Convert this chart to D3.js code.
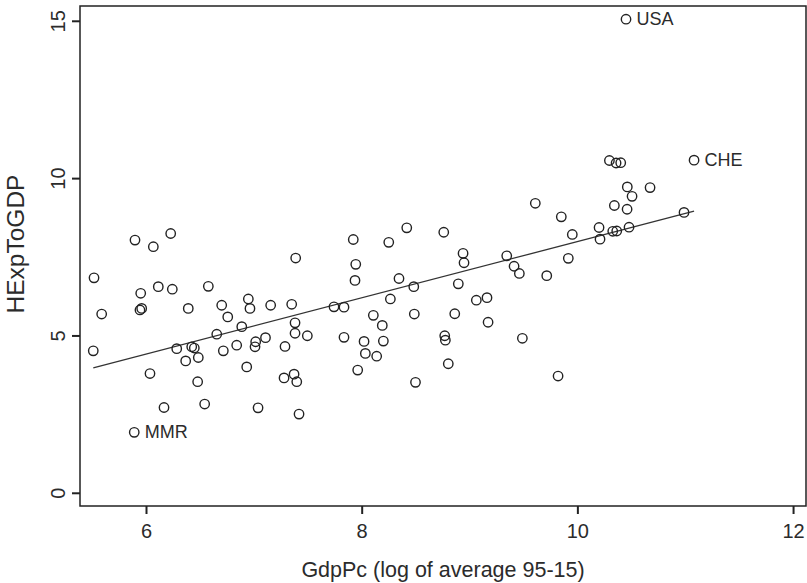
<!DOCTYPE html>
<html>
<head>
<meta charset="utf-8">
<script src="https://cdn.jsdelivr.net/npm/d3@7"></script>
<style>
  body { margin: 0; background: #fff; }
  text { font-family: "Liberation Sans", Arial, sans-serif; fill: #2b2b2b; }
</style>
</head>
<body>
<svg width="807" height="583"></svg>
<script>
// GdpPc (log) and HExpToGDP
var gdp = [5.898, 6.068, 6.229, 5.518, 5.951, 6.114, 6.244, 6.578, 5.589, 5.944,
  5.960, 6.392, 6.702, 6.949, 6.964, 6.758, 7.156, 6.888, 6.656, 5.511,
  6.285, 6.424, 6.448, 6.717, 6.841, 7.017, 7.011, 7.108, 6.368, 6.485,
  6.934, 6.037, 6.479, 6.167, 6.544, 7.039, 5.891, 7.388, 7.922, 8.251,
  8.418, 8.761, 8.940, 8.949, 9.345, 9.413, 9.462, 7.945, 7.938, 8.346,
  8.483, 8.896, 7.351, 7.743, 7.836, 8.266, 9.063, 9.162, 7.382, 7.382,
  7.496, 7.289, 7.836, 8.108, 8.191, 8.488, 8.863, 9.172, 8.022, 8.201,
  8.034, 8.139, 8.770, 8.776, 9.490, 7.963, 8.803, 7.280, 7.373, 7.398,
  8.499, 7.419, 10.451, 11.082, 10.297, 10.359, 10.402, 10.463, 10.674, 10.507,
  9.610, 10.343, 10.461, 9.851, 10.201, 9.953, 10.328, 10.365, 10.479, 10.989,
  10.210, 9.916, 9.716, 9.821];
var hexp = [8.03, 7.82, 8.24, 6.83, 6.34, 6.55, 6.47, 6.56, 5.68, 5.81,
  5.86, 5.86, 5.96, 6.16, 5.86, 5.59, 5.96, 5.28, 5.04, 4.51,
  4.58, 4.64, 4.60, 4.51, 4.69, 4.80, 4.64, 4.93, 4.19, 4.30,
  4.00, 3.79, 3.53, 2.71, 2.82, 2.70, 1.92, 7.46, 8.05, 7.96,
  8.42, 8.28, 7.61, 7.31, 7.53, 7.20, 6.97, 7.26, 6.75, 6.81,
  6.55, 6.64, 5.99, 5.91, 5.90, 6.16, 6.12, 6.20, 5.40, 5.07,
  4.99, 4.65, 4.94, 5.64, 5.32, 5.68, 5.69, 5.42, 4.81, 4.82,
  4.43, 4.34, 4.99, 4.85, 4.91, 3.90, 4.10, 3.65, 3.77, 3.53,
  3.51, 2.50, 15.05, 10.57, 10.56, 10.48, 10.49, 9.72, 9.70, 9.42,
  9.20, 9.13, 9.01, 8.77, 8.43, 8.21, 8.31, 8.32, 8.44, 8.91,
  8.06, 7.45, 6.90, 3.71];
var country = [];
country[37 - 1] = "MMR";
country[83 - 1] = "USA";
country[84 - 1] = "CHE";

var fitX = [5.511, 11.082];
var fitY = [3.97, 8.95];

var xTicks = [6, 8, 10, 12];
var yTicks = [0, 5, 10, 15];

var svg = d3.select("svg");
var padL = 80, padR = 806, padT = 6, padB = 506;

var x = d3.scaleLinear().domain([5.388, 12.12]).range([padL, padR]);
var y = d3.scaleLinear().domain([-0.42, 15.47]).range([padB, padT]);

var ink = "#222";

// axes
var gx = svg.append("g")
  .attr("transform", "translate(0," + padB + ")")
  .call(d3.axisBottom(x).tickValues(xTicks).tickFormat(d3.format("d")).tickSize(8).tickSizeOuter(0));
gx.select(".domain").remove();
gx.selectAll(".tick line").attr("stroke", ink).attr("stroke-width", 2);
gx.selectAll(".tick text")
  .attr("y", 31.5).attr("dy", 0)
  .style("font-size", "20px").attr("fill", "#2b2b2b");

var gy = svg.append("g")
  .attr("transform", "translate(" + padL + ",0)")
  .call(d3.axisLeft(y).tickValues(yTicks).tickFormat(d3.format("d")).tickSize(8).tickSizeOuter(0));
gy.select(".domain").remove();
gy.selectAll(".tick line").attr("stroke", ink).attr("stroke-width", 2);
gy.selectAll(".tick text")
  .attr("transform", "rotate(-90)")
  .attr("x", 0).attr("y", -15).attr("dy", 0)
  .attr("text-anchor", "middle")
  .style("font-size", "20px").attr("fill", "#2b2b2b");

// frame
svg.append("rect")
  .attr("x", padL).attr("y", padT)
  .attr("width", padR - padL).attr("height", padB - padT)
  .attr("fill", "none").attr("stroke", ink).attr("stroke-width", 1.5);

// fitted line
svg.append("line")
  .attr("x1", x(fitX[0])).attr("y1", y(fitY[0]))
  .attr("x2", x(fitX[1])).attr("y2", y(fitY[1]))
  .attr("stroke", "#333").attr("stroke-width", 1.3);

// points
svg.append("g").selectAll("circle")
  .data(gdp)
  .enter().append("circle")
    .attr("cx", function(d) { return x(d); })
    .attr("cy", function(d, i) { return y(hexp[i]); })
    .attr("r", 4.7)
    .attr("fill", "none")
    .attr("stroke", ink)
    .attr("stroke-width", 1.4);

// labels
svg.append("g").selectAll("text")
  .data(gdp.map(function(d, i) { return i; }).filter(function(i) { return country[i]; }))
  .enter().append("text")
    .attr("x", function(i) { return x(gdp[i]) + 10.5; })
    .attr("y", function(i) { return y(hexp[i]) + 6; })
    .style("font-size", "18px")
    .text(function(i) { return country[i]; });

// titles
svg.append("text")
  .attr("x", (padL + padR) / 2).attr("y", 577)
  .attr("text-anchor", "middle")
  .style("font-size", "21.5px")
  .text("GdpPc (log of average 95-15)");

svg.append("text")
  .attr("transform", "translate(23.5,244) rotate(-90)")
  .attr("text-anchor", "middle")
  .style("font-size", "24.5px")
  .text("HExpToGDP");
</script>
</body>
</html>
